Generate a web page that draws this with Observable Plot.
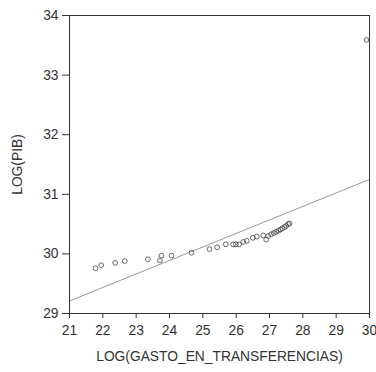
<!DOCTYPE html>
<html>
<head>
<meta charset="utf-8">
<script src="https://cdn.jsdelivr.net/npm/d3@7"></script>
<script src="https://cdn.jsdelivr.net/npm/@observablehq/plot@0.6"></script>
<style>
  html, body { margin: 0; padding: 0; background: #fff; }
  svg { font-family: "Liberation Sans", Arial, sans-serif; }
</style>
</head>
<body>
<div id="chart"></div>
<script>
// Observed points: LOG(GASTO_EN_TRANSFERENCIAS) vs LOG(PIB)
const logGasto = [21.78, 21.95, 22.37, 22.66, 23.35, 23.71, 23.76, 24.06, 24.66, 25.20,
  25.43, 25.69, 25.91, 25.99, 26.09, 26.21, 26.32, 26.50, 26.62, 26.81,
  26.90, 26.96, 27.05, 27.13, 27.20, 27.27, 27.33, 27.39, 27.45, 27.50,
  27.56, 27.60, 29.91];
const logPib = [29.76, 29.81, 29.85, 29.88, 29.91, 29.89, 29.97, 29.97, 30.02, 30.08,
  30.11, 30.16, 30.16, 30.16, 30.16, 30.20, 30.22, 30.27, 30.29, 30.31,
  30.24, 30.30, 30.33, 30.35, 30.37, 30.39, 30.41, 30.43, 30.45, 30.47,
  30.50, 30.51, 33.59];
// Fitted line endpoints
const fitX = [21, 30];
const fitY = [29.21, 31.25];
const xTicks = [21, 22, 23, 24, 25, 26, 27, 28, 29, 30];
const yTicks = [29, 30, 31, 32, 33, 34];

const points = logGasto.map((x, i) => ({x, y: logPib[i]}));
const fit = fitX.map((x, i) => ({x, y: fitY[i]}));

const chart = Plot.plot({
  width: 376,
  height: 372,
  marginLeft: 69,
  marginRight: 7,
  marginTop: 15,
  marginBottom: 59,
  style: {fontSize: "13.8px", color: "#333", background: "#fff"},
  x: {domain: [21, 30], ticks: xTicks, tickFormat: "d", tickSize: 5, tickPadding: 7,
      label: "LOG(GASTO_EN_TRANSFERENCIAS)", labelAnchor: "center", labelOffset: 47, labelArrow: "none"},
  y: {domain: [29, 34], ticks: yTicks, tickFormat: "d", tickSize: 7, tickPadding: 4,
      label: "LOG(PIB)", labelAnchor: "center", labelOffset: 57, labelArrow: "none"},
  marks: [
    Plot.line(fit, {x: "x", y: "y", stroke: "#999", strokeWidth: 1}),
    Plot.dot(points, {x: "x", y: "y", r: 2.4, stroke: "#444", strokeWidth: 0.8, fill: "none"}),
    Plot.frame({stroke: "#333", strokeWidth: 1})
  ]
});
document.getElementById("chart").appendChild(chart);
</script>
</body>
</html>
